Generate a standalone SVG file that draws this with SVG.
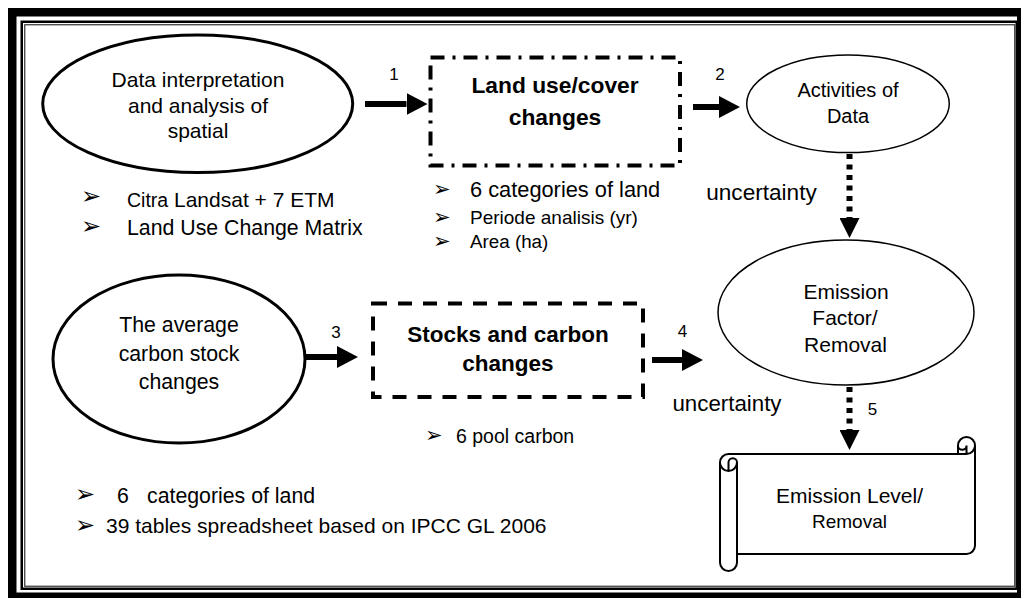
<svg xmlns="http://www.w3.org/2000/svg" width="1024" height="599" viewBox="0 0 1024 599">
<style>
text{font-family:"Liberation Sans",Arial,sans-serif;fill:#000;font-size:21px}
.c{text-anchor:middle}
.b{font-weight:bold}
.sym{font-family:"DejaVu Sans",sans-serif;font-size:24px}
.lbl{font-size:17px;text-anchor:middle}
.thick{fill:#fff;stroke:#000;stroke-width:3}
.thin{fill:#fff;stroke:#000;stroke-width:1.5}
.shaft{stroke:#000;stroke-width:6;fill:none}
.dots{stroke:#000;stroke-width:6;fill:none;stroke-dasharray:5 5.5}
</style>
<defs>
<marker id="ah" markerUnits="userSpaceOnUse" viewBox="0 0 21 22" markerWidth="21" markerHeight="22" refX="0" refY="11" orient="auto"><path d="M0,0 L21,11 L0,22 Z" fill="#000"/></marker>
<marker id="dh" markerUnits="userSpaceOnUse" viewBox="0 0 20 20" markerWidth="20" markerHeight="20" refX="0" refY="10" orient="auto"><path d="M0,0 L20,10 L0,20 Z" fill="#000"/></marker>
</defs>
<rect width="1024" height="599" fill="#fff"/>
<g id="frame">
<rect x="8" y="8" width="1013" height="8.5" fill="#000"/>
<rect x="8" y="8" width="8.5" height="590" fill="#000"/>
<rect x="1017" y="8" width="4" height="590" fill="#000"/>
<rect x="8" y="592.5" width="1013" height="5.5" fill="#000"/>
<rect x="21.75" y="21.75" width="995" height="567" fill="none" stroke="#000" stroke-width="2.5"/>
<rect x="24.75" y="24.75" width="990" height="561.5" fill="none" stroke="#333" stroke-width="1.2"/>
</g>
<g id="connectors">
<line class="shaft" x1="365" y1="104" x2="406.5" y2="104" marker-end="url(#ah)"/>
<line class="shaft" x1="693" y1="107" x2="719" y2="107" marker-end="url(#ah)"/>
<line class="shaft" x1="305" y1="357" x2="337" y2="357" marker-end="url(#ah)"/>
<line class="shaft" x1="652" y1="360" x2="682" y2="360" marker-end="url(#ah)"/>
<line class="dots" x1="849.5" y1="154" x2="849.5" y2="218" marker-end="url(#dh)"/>
<line class="dots" x1="849.5" y1="387" x2="849.5" y2="430" marker-end="url(#dh)"/>
<text class="lbl" x="394" y="80">1</text>
<text class="lbl" x="720" y="80">2</text>
<text class="lbl" x="336" y="338.3">3</text>
<text class="lbl" x="682.5" y="336.7">4</text>
<text class="lbl" x="872.5" y="415">5</text>
<text class="c" x="761.5" y="200" style="font-size:22.6px">uncertainty</text>
<text class="c" x="727" y="411" style="font-size:22.3px">uncertainty</text>
</g>
<g id="n-spatial">
<ellipse class="thick" cx="197.7" cy="103.8" rx="155" ry="68.8"/>
<text class="c" x="198" y="87.3">Data interpretation</text>
<text class="c" x="198" y="113.3">and analysis of</text>
<text class="c" x="198" y="138.3">spatial</text>
</g>
<g id="notes-spatial">
<text class="sym" x="81" y="204.2">➢</text>
<text x="127" y="207"><tspan style="font-size:19.5px">Citra</tspan> Landsat + 7 ETM</text>
<text class="sym" x="81" y="233.5">➢</text>
<text x="127" y="235" style="font-size:21.3px">Land Use Change Matrix</text>
</g>
<g id="n-landuse">
<rect x="430.5" y="57.5" width="249.5" height="108" fill="#fff" stroke="#000" stroke-width="4" stroke-dasharray="14 8 3 8"/>
<text class="c b" x="555" y="93.3" style="font-size:22.8px">Land use/cover</text>
<text class="c b" x="555" y="125" style="font-size:22.8px">changes</text>
</g>
<g id="notes-landuse">
<text class="sym" x="433" y="196" style="font-size:21px">➢</text>
<text x="470" y="196.7" style="font-size:21.8px">6 categories of land</text>
<text class="sym" x="433" y="223.5" style="font-size:21px">➢</text>
<text x="470" y="224" style="font-size:19px">Periode analisis (yr)</text>
<text class="sym" x="433" y="247.8" style="font-size:21px">➢</text>
<text x="470" y="248.3" style="font-size:18.8px">Area (ha)</text>
</g>
<g id="n-activities">
<ellipse class="thin" cx="848" cy="103.8" rx="101.3" ry="48.8"/>
<text class="c" x="848" y="97" style="font-size:20px">Activities of</text>
<text class="c" x="848" y="123" style="font-size:20px">Data</text>
</g>
<g id="n-factor">
<ellipse class="thin" cx="846" cy="312.5" rx="128" ry="72.5"/>
<text class="c" x="846" y="299">Emission</text>
<text class="c" x="845" y="325">Factor/</text>
<text class="c" x="845.5" y="351.7">Removal</text>
</g>
<g id="n-carbon">
<ellipse class="thick" cx="179" cy="359" rx="126" ry="84"/>
<text class="c" x="179" y="331.7" style="font-size:21.3px">The average</text>
<text class="c" x="179" y="361" style="font-size:21.3px">carbon stock</text>
<text class="c" x="179" y="389" style="font-size:21.3px">changes</text>
</g>
<g id="n-stocks">
<rect x="373" y="303.5" width="270" height="93.5" fill="#fff" stroke="#000" stroke-width="4" stroke-dasharray="14 11"/>
<text class="c b" x="508" y="341.7" style="font-size:22.5px">Stocks and carbon</text>
<text class="c b" x="508" y="370.7" style="font-size:22.5px">changes</text>
</g>
<g id="notes-stocks">
<text class="sym" x="425" y="441.5" style="font-size:21px">➢</text>
<text x="456" y="443.3" style="font-size:19.5px">6 pool carbon</text>
</g>
<g id="n-level">
<path d="M720,462.5 A8.5,8.5 0 0 1 728.5,454 L958,454 L958,445.5 A8.5,8.5 0 0 1 975,445.5 L975,545.5 A8.5,8.5 0 0 1 966.5,554 L737,554 L737,562.5 A8.5,8.5 0 0 1 720,562.5 Z" fill="#fff" stroke="#000" stroke-width="2"/>
<path d="M958,454 L966.5,454 A8.5,8.5 0 0 0 975,445.5 M966.5,454 L966.5,445.5 A4.25,4.25 0 0 1 958,445.5 M728.5,471 L728.5,462.5 A4.25,4.25 0 0 1 737,462.5 A8.5,8.5 0 0 1 720,462.5 M737,462.5 L737,554" fill="none" stroke="#000" stroke-width="2"/>
<text class="c" x="849.5" y="503">Emission Level/</text>
<text class="c" x="849.5" y="528" style="font-size:19px">Removal</text>
</g>
<g id="notes-carbon">
<text class="sym" x="75" y="502.2">➢</text>
<text x="117" y="503.3" style="font-size:21.3px">6<tspan x="147">categories of land</tspan></text>
<text class="sym" x="75" y="532.5">➢</text>
<text x="106" y="533">39 tables spreadsheet based on IPCC GL 2006</text>
</g>
</svg>
